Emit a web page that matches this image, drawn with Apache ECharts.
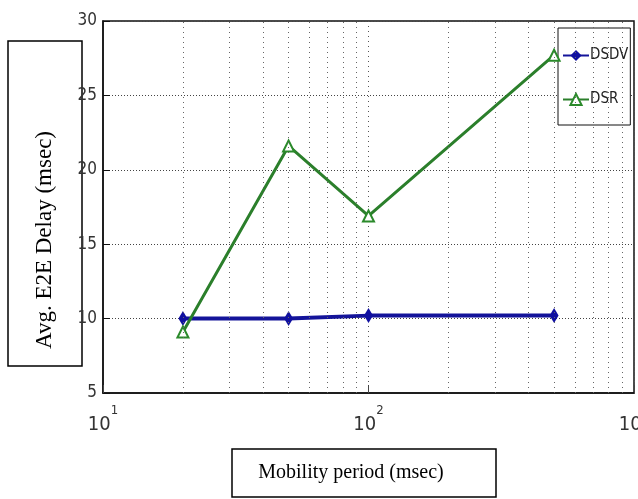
<!DOCTYPE html>
<html>
<head>
<meta charset="utf-8">
<script src="https://cdn.jsdelivr.net/npm/echarts@6/dist/echarts.min.js"></script>
<style>
  html, body { margin: 0; padding: 0; background: #fff; }
  #chart { width: 638px; height: 499px; }
</style>
</head>
<body>
<div id="chart"></div>
<script>
// mobility period (msec), log scale
var periods = [20, 50, 100, 500];
var dsdvDelay = [10.0, 10.0, 10.2, 10.2];
var dsrDelay = [9.1, 21.6, 16.9, 27.7];
// minor grid positions of the log axis
var minorGridX = [20, 30, 40, 50, 60, 70, 80, 90, 200, 300, 400, 500, 600, 700, 800, 900];

var narrow = '"DejaVu Sans Condensed", "Liberation Sans Narrow", "DejaVu Sans", sans-serif';
var serif = '"Liberation Serif", "DejaVu Serif", serif';

function pairs(xs, ys) {
    return xs.map(function (x, i) { return [x, ys[i]]; });
}

var chart = echarts.init(document.getElementById('chart'));

var option = {
    backgroundColor: '#fff',
    animation: false,
    grid: {
        left: 103, right: 4, top: 21, bottom: 106,
        outerBoundsMode: 'none',
        containLabel: false,
        show: true, borderColor: '#111', borderWidth: 1.5
    },
    legend: {
        orient: 'vertical',
        left: 558, top: 28,
        padding: [20, 2, 18, 4],
        itemGap: 29,
        itemWidth: 26, itemHeight: 14,
        borderColor: '#111', borderWidth: 1,
        backgroundColor: '#fff',
        textStyle: { fontFamily: narrow, fontStyle: 'condensed', fontSize: 15, color: '#222', padding: [0, 0, 0, -4] },
        data: ['DSDV', 'DSR']
    },
    xAxis: {
        type: 'log',
        logBase: 10,
        min: 10, max: 1000,
        axisLine: { show: true, lineStyle: { color: '#111', width: 1.5 } },
        axisTick: { inside: true, length: 8, lineStyle: { color: '#444' } },
        splitLine: { show: true, lineStyle: { type: [1, 4], color: '#555' } },
        axisLabel: {
            margin: 8,
            formatter: function (v) {
                return '{b|10}{s|' + Math.round(Math.log10(v)) + '}';
            },
            rich: {
                b: { fontFamily: narrow, fontStyle: 'condensed', fontSize: 20, color: '#333', padding: [14, 0, 0, 0] },
                s: { fontFamily: narrow, fontStyle: 'condensed', fontSize: 13, color: '#333', verticalAlign: 'top', padding: [3, 0, 0, 0] }
            }
        }
    },
    yAxis: {
        type: 'value',
        min: 5, max: 30, interval: 5,
        axisLine: { show: true, lineStyle: { color: '#111', width: 1.5 } },
        axisTick: { show: true, inside: true, length: 7, lineStyle: { color: '#111' } },
        splitLine: { show: true, lineStyle: { type: [1, 2], color: '#444' } },
        axisLabel: { fontFamily: narrow, fontStyle: 'condensed', fontSize: 17, color: '#333', margin: 6 }
    },
    series: [{
        name: 'DSDV',
        type: 'line',
        data: pairs(periods, dsdvDelay),
        z: 3,
        symbol: 'diamond',
        symbolSize: [9, 15],
        itemStyle: { color: '#1010a0' },
        lineStyle: { color: '#14149a', width: 4 },
        markLine: {
            silent: true,
            symbol: 'none',
            label: { show: false },
            lineStyle: { type: [1, 4], color: '#666', width: 1 },
            data: minorGridX.map(function (v) { return { xAxis: v }; })
        }
    }, {
        name: 'DSR',
        type: 'line',
        data: pairs(periods, dsrDelay),
        z: 4,
        symbol: 'triangle',
        symbolSize: 11,
        itemStyle: { color: '#fff', borderColor: '#2b8a2b', borderWidth: 2 },
        lineStyle: { color: '#2b7f2b', width: 3 }
    }],
    graphic: [{
        type: 'group',
        children: [{
            type: 'rect',
            shape: { x: 8, y: 41, width: 74, height: 325 },
            style: { fill: '#fff', stroke: '#000', lineWidth: 1.5 }
        }, {
            type: 'text',
            x: 45, y: 240,
            rotation: Math.PI / 2,
            style: {
                text: 'Avg. E2E Delay (msec)',
                font: '23px ' + serif,
                fill: '#000',
                align: 'center',
                verticalAlign: 'middle'
            }
        }]
    }, {
        type: 'group',
        children: [{
            type: 'rect',
            shape: { x: 232, y: 449, width: 264, height: 48 },
            style: { fill: '#fff', stroke: '#000', lineWidth: 1.5 }
        }, {
            type: 'text',
            x: 351, y: 473,
            style: {
                text: 'Mobility period (msec)',
                font: '20px ' + serif,
                fill: '#000',
                align: 'center',
                verticalAlign: 'middle'
            }
        }]
    }]
};

chart.setOption(option);
</script>
</body>
</html>
